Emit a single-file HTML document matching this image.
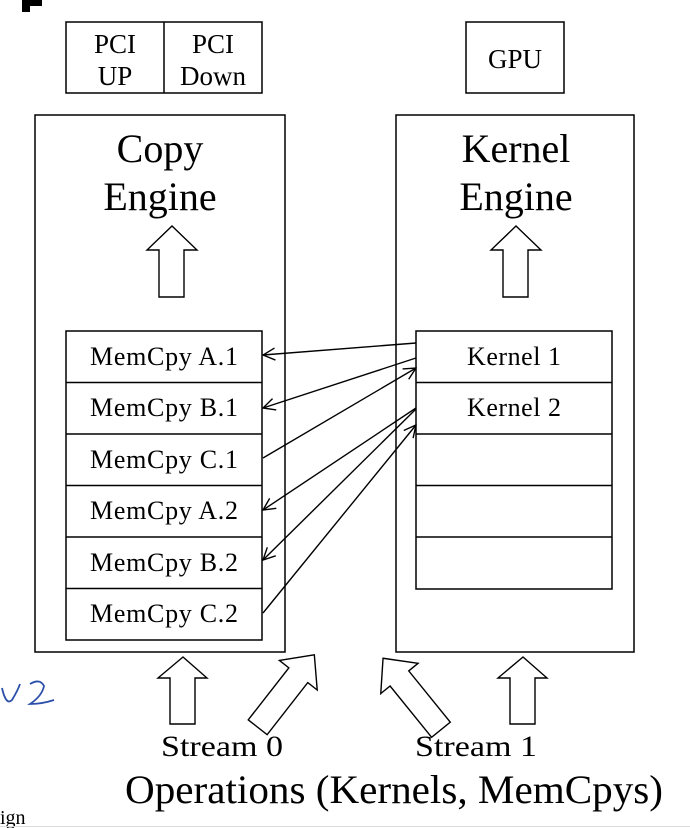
<!DOCTYPE html>
<html><head><meta charset="utf-8"><style>
html,body{margin:0;padding:0;background:#fff;width:690px;height:828px;overflow:hidden}
svg{display:block}
text{font-family:"Liberation Serif",serif;fill:#000}
</style></head><body>
<svg width="690" height="828" viewBox="0 0 690 828" xmlns="http://www.w3.org/2000/svg">
<defs>
<marker id="ah" markerWidth="14" markerHeight="14" refX="13" refY="7" orient="auto" markerUnits="userSpaceOnUse">
<path d="M1,1 L13,7 L1,13" fill="none" stroke="#000" stroke-width="1.4"/>
</marker>
</defs>
<rect x="0" y="0" width="690" height="828" fill="#fff"/>
<path d="M0,0 H42 V6 H30 V12 H22 V0" fill="#000"/>
<g fill="none" stroke="#000" stroke-width="1.5">
<rect x="66" y="22" width="196" height="71"/>
<line x1="164" y1="22" x2="164" y2="93"/>
<rect x="466" y="22" width="98" height="71"/>
<rect x="35" y="115" width="250" height="537"/>
<rect x="396" y="115" width="238" height="537"/>
<rect x="66" y="331" width="196" height="309"/>
<line x1="66" y1="382.5" x2="262" y2="382.5"/>
<line x1="66" y1="434" x2="262" y2="434"/>
<line x1="66" y1="485.5" x2="262" y2="485.5"/>
<line x1="66" y1="537" x2="262" y2="537"/>
<line x1="66" y1="588.5" x2="262" y2="588.5"/>
<rect x="416" y="331" width="196" height="258"/>
<line x1="416" y1="382.5" x2="612" y2="382.5"/>
<line x1="416" y1="434" x2="612" y2="434"/>
<line x1="416" y1="485.5" x2="612" y2="485.5"/>
<line x1="416" y1="537" x2="612" y2="537"/>
</g>
<g fill="#fff" stroke="#000" stroke-width="1.4">
<polygon points="172,226 197,250 184,250 184,297 159,297 159,250 147,250"/>
<polygon points="516,226 541,250 528,250 528,297 503,297 503,250 491,250"/>
<polygon points="183,657 207,678 195,678 195,724 170,724 170,678 158,678"/>
<polygon points="523,657 547,678 535,678 535,724 510,724 510,678 498,678"/>
<g transform="translate(286,691) rotate(38)"><polygon points="0,-46 24,-20 12,-20 12,46 -12,46 -12,-20 -24,-20"/></g>
<g transform="translate(412,694) rotate(-39)"><polygon points="0,-46 24,-20 12,-20 12,46 -12,46 -12,-20 -24,-20"/></g>
</g>
<g stroke="#000" stroke-width="1.4" fill="none" marker-end="url(#ah)">
<line x1="416" y1="343" x2="263" y2="355"/>
<line x1="416" y1="358" x2="263" y2="408"/>
<line x1="263" y1="458" x2="416" y2="368"/>
<line x1="416" y1="408" x2="263" y2="510"/>
<line x1="416" y1="409" x2="263" y2="560"/>
<line x1="263" y1="613" x2="416" y2="425"/>
</g>
<g font-size="27" text-anchor="middle">
<text x="115" y="53">PCI</text><text x="115" y="85">UP</text>
<text x="213" y="53">PCI</text><text x="213" y="85">Down</text>
<text x="515" y="68">GPU</text>
</g>
<g font-size="40" text-anchor="middle">
<text x="160" y="162">Copy</text><text x="160" y="210">Engine</text>
<text x="516" y="162">Kernel</text><text x="516" y="210">Engine</text>
</g>
<g font-size="26" text-anchor="middle" lengthAdjust="spacingAndGlyphs">
<text x="164" y="365" textLength="148">MemCpy A.1</text>
<text x="164" y="416" textLength="148">MemCpy B.1</text>
<text x="164" y="468" textLength="148">MemCpy C.1</text>
<text x="164" y="519" textLength="148">MemCpy A.2</text>
<text x="164" y="571" textLength="148">MemCpy B.2</text>
<text x="164" y="622" textLength="148">MemCpy C.2</text>
<text x="514" y="365" textLength="94">Kernel 1</text>
<text x="514" y="416" textLength="94">Kernel 2</text>
</g>
<g font-size="30" text-anchor="middle">
<text x="222" y="756" textLength="122" lengthAdjust="spacingAndGlyphs">Stream 0</text>
<text x="476" y="756" textLength="122" lengthAdjust="spacingAndGlyphs">Stream 1</text>
</g>
<text x="125" y="803" font-size="40" textLength="538" lengthAdjust="spacingAndGlyphs">Operations (Kernels, MemCpys)</text>
<text x="0" y="824" font-size="20">ign</text>
<path d="M2,688 Q6,706 12,700 Q18,690 20,684 M30,684 Q40,678 44,686 Q42,696 30,704 Q42,704 54,700" fill="none" stroke="#2b4fa8" stroke-width="1.8"/>
<line x1="0" y1="826.5" x2="690" y2="826.5" stroke="#ddd" stroke-width="1"/>
</svg>
</body></html>
